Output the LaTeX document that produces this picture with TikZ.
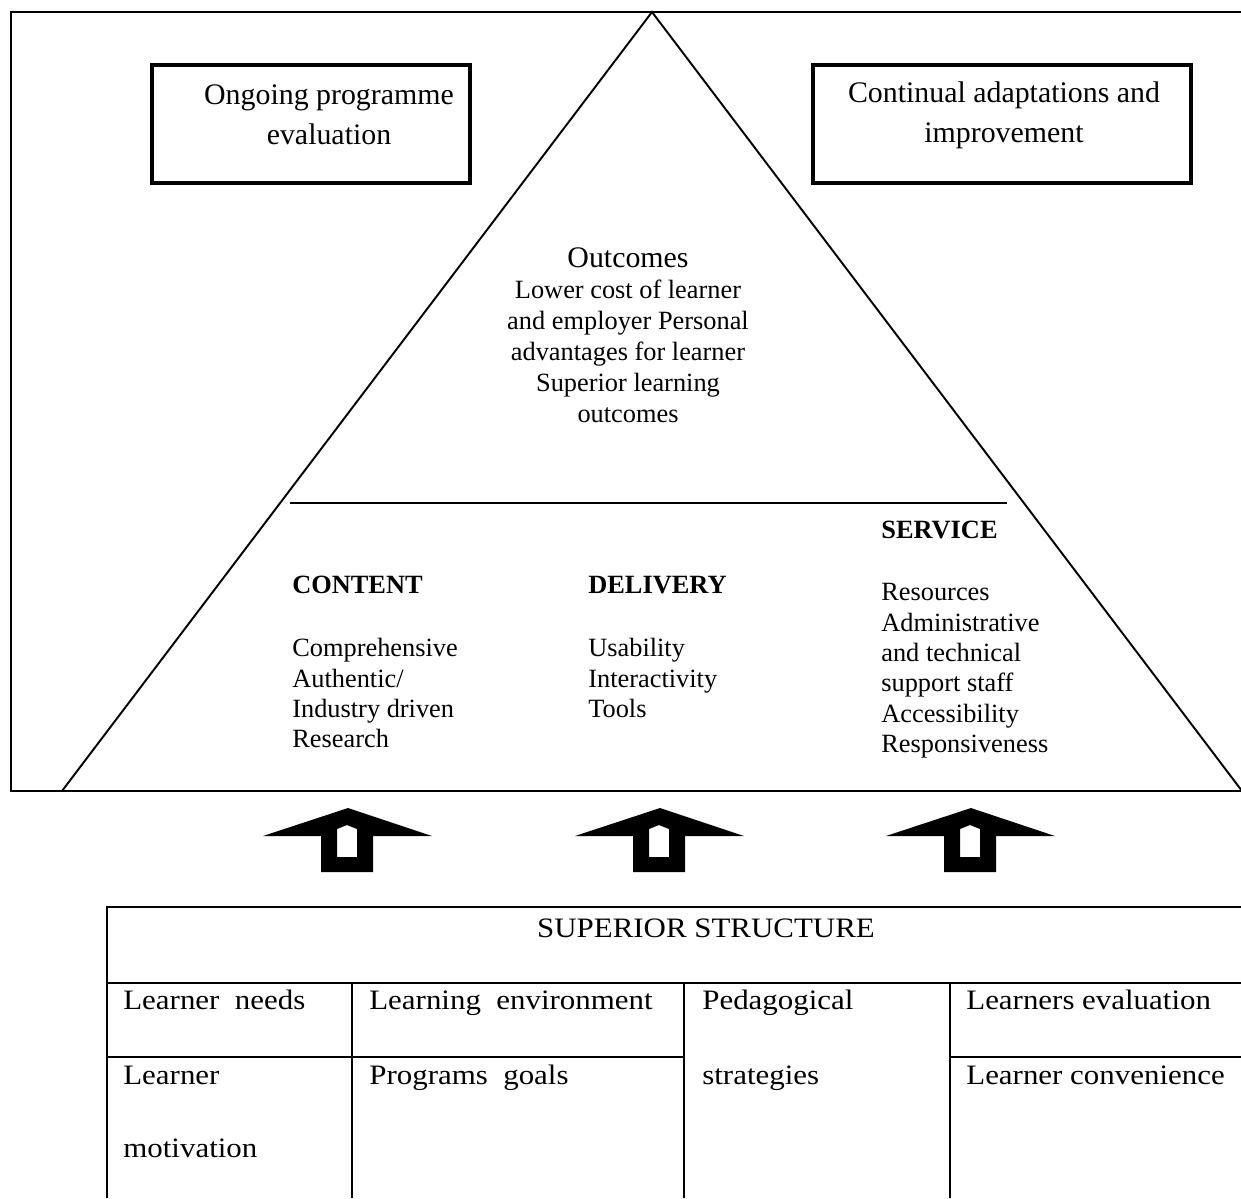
\documentclass[tikz,border=0pt]{standalone}
\usepackage{fontspec}
\setmainfont{Liberation Serif}
\newfontfamily\cellfont{Liberation Serif}[FakeStretch=1.1]
\usetikzlibrary{calc}

\tikzset{
  frameline/.style={line width=1.1pt},
  boxline/.style={line width=2.8pt},
  tableline/.style={line width=1.4pt},
  boxtext/.style={font=\fontsize{17}{22.7}\selectfont, align=center, inner sep=0pt},
  headtext/.style={font=\fontsize{15}{17.3}\selectfont\bfseries, inner sep=0pt, anchor=north west},
  listtext/.style={font=\fontsize{15}{17.3}\selectfont, align=left, inner sep=0pt, anchor=north west},
  celltext/.style={font=\cellfont\fontsize{16}{18}\selectfont, inner sep=0pt, anchor=base west}
}

\begin{document}
\begin{tikzpicture}[x=0.02cm, y=-0.02cm]

\useasboundingbox (0,0) rectangle (1241,1198);

% Outer frame (cut at the right)
\draw[frameline] (1241,12) -- (11,12) -- (11,791) -- (1241,791);

% Big triangle
\draw[frameline] (62,791) -- (652,12) -- (1242,791);

% Line between outcomes and the three pillars
\draw[frameline] (290,503) -- (1007,503);

% Two thick boxes at the top
\draw[boxline] (152,65) rectangle (470,183);
\node[boxtext] (evaltext) at (329,115) {Ongoing programme\\evaluation};

\draw[boxline] (813,65) rectangle (1191,183);
\node[boxtext] (adapttext) at (1004,115) {Continual adaptations and\\improvement};

% Outcomes at the top of the triangle
\node[font=\fontsize{17}{20}\selectfont, inner sep=0pt] (outhead) at (628,258) {Outcomes};
\node[font=\fontsize{15}{17.6}\selectfont, align=center, inner sep=0pt, anchor=north] (outlist) at (628,280)
  {Lower cost of learner\\and employer Personal\\advantages for learner\\Superior learning\\outcomes};

% Content, delivery and service
\node[headtext] (conthead) at (292,576) {CONTENT};
\node[listtext] (contlist) at (292,638) {Comprehensive\\Authentic/\\Industry driven\\Research};

\node[headtext] (delhead) at (588,576) {DELIVERY};
\node[listtext] (dellist) at (588,638) {Usability\\Interactivity\\Tools};

\node[headtext] (servhead) at (881,521) {SERVICE};
\node[listtext] (servlist) at (881,583) {Resources\\Administrative\\and technical\\support staff\\Accessibility\\Responsiveness};

% Three block arrows pointing up
\foreach \cx in {348,660,971}{
  \fill[even odd rule] (\cx,808) -- (\cx+84,836) -- (\cx+25,836) -- (\cx+25,872)
    -- (\cx-27,872) -- (\cx-27,836) -- (\cx-85,836) -- cycle
    (\cx-11,857) -- (\cx-11,829) -- (\cx-1,825) -- (\cx+9,829) -- (\cx+9,857) -- cycle;
}

% Table of the superior structure (cut at the right and bottom)
\draw[tableline] (1241,907) -- (107,907) -- (107,1198);
\draw[tableline] (107,983) -- (1241,983);
\draw[tableline] (107,1057) -- (684,1057);
\draw[tableline] (950,1057) -- (1241,1057);
\foreach \colx in {352,684,950}{
  \draw[tableline] (\colx,983) -- (\colx,1198);
}

\node[celltext, anchor=base] (struct) at (706,937) {SUPERIOR STRUCTURE};

\node[celltext] (needs) at (123,1009) {Learner\ \ needs};
\node[celltext] (envir) at (369,1009) {Learning\ \ environment};
\node[celltext] (pedag) at (702,1009) {Pedagogical};
\node[celltext] (evallearn) at (966,1009) {Learners evaluation};

\node[celltext] (learner) at (123,1084) {Learner};
\node[celltext] (motiv) at (123,1157) {motivation};
\node[celltext] (goals) at (369,1084) {Programs\ \ goals};
\node[celltext] (strat) at (702,1084) {strategies};
\node[celltext] (conven) at (966,1084) {Learner convenience};

\end{tikzpicture}
\end{document}
